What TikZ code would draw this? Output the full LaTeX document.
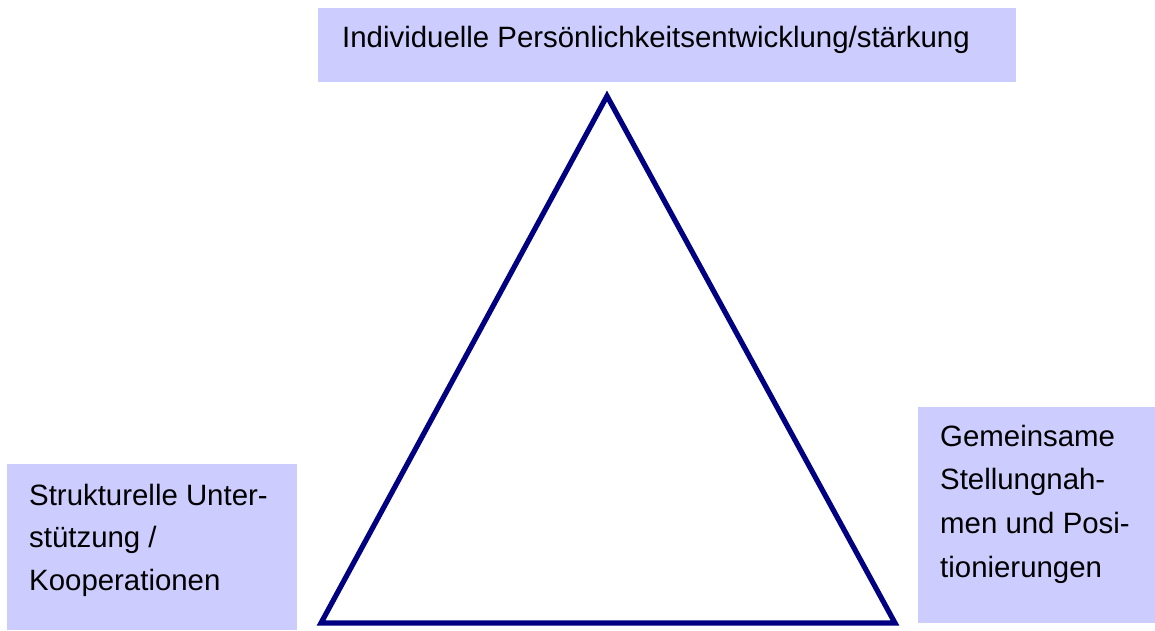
\documentclass[tikz,border=0pt]{standalone}
\usepackage{fontspec}
\setmainfont{Liberation Sans}
\definecolor{boxfill}{HTML}{CCCCFF}
\definecolor{trinavy}{HTML}{000080}
\begin{document}
\begin{tikzpicture}[x=1pt,y=-1pt,
  box/.style={fill=boxfill, draw=none, inner sep=0pt, anchor=north west},
  lbl/.style={inner sep=0pt, anchor=base west, font=\fontsize{29.4}{43}\selectfont},
  tri/.style={draw=trinavy, line width=5.2pt, line join=miter}]
\useasboundingbox (0,0) rectangle (1155,630);
% boxes
\node[box, minimum width=698pt, minimum height=74pt] (topbox) at (318,8) {};
\node[box, minimum width=290pt, minimum height=166pt] (leftbox) at (7,464) {};
\node[box, minimum width=237pt, minimum height=216pt] (rightbox) at (918,407) {};
% texts
\node[lbl] (toptext) at (342,47) {Individuelle Persönlichkeitsentwicklung/stärkung};
\node[lbl] (lefttext) at (29,505) {\vtop{\baselineskip=42.5pt\hbox{Strukturelle Unter-}\hbox{stützung /}\hbox{Kooperationen}}};
\node[lbl] (righttext) at (940,446) {\vtop{\baselineskip=43.7pt\hbox{Gemeinsame}\hbox{Stellungnah-}\hbox{men und Posi-}\hbox{tionierungen}}};
% triangle
\coordinate (apex) at (607,96);
\coordinate (bl) at (321,623);
\coordinate (br) at (895,623);
\draw[tri] (apex) -- (bl) -- (br) -- cycle;
\end{tikzpicture}
\end{document}
